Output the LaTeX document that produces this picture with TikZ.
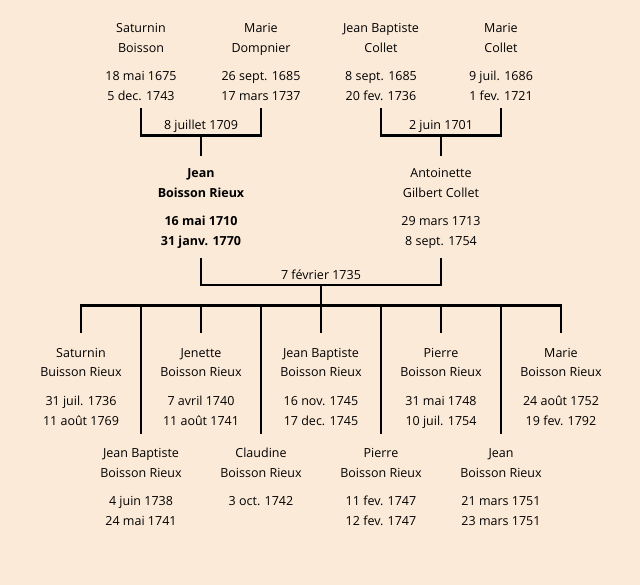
\documentclass[tikz,border=0pt]{standalone}
\usepackage{fontspec}
\setmainfont{Open Sans}
\definecolor{bgpeach}{RGB}{252,234,216}
\newcommand\pers[4]{\vtop{\halign{\hfil##\hfil\cr #1\cr #2\cr\noalign{\vskip8pt}#3\cr #4\cr}}}
\tikzset{
  person/.style={anchor=base, inner sep=0pt, font=\fontsize{12.5}{20}\selectfont},
  wed/.style={anchor=base, inner sep=0pt, font=\fontsize{12.5}{20}\selectfont},
  link/.style={line width=2.5pt, black}
}
\begin{document}
\begin{tikzpicture}[x=1pt,y=-1pt]
\useasboundingbox[fill=bgpeach] (0,0) rectangle (640,585);
% grandparents
\node[person] (sb)  at (141,32.5) {\pers{Saturnin}{Boisson}{18 mai 1675}{5 dec. 1743}};
\node[person] (md)  at (261,32.5) {\pers{Marie}{Dompnier}{26 sept. 1685}{17 mars 1737}};
\node[person] (jbc) at (381,32.5) {\pers{Jean Baptiste}{Collet}{8 sept. 1685}{20 fev. 1736}};
\node[person] (mc)  at (501,32.5) {\pers{Marie}{Collet}{9 juil. 1686}{1 fev. 1721}};
\node[wed] (w1) at (201,129.5) {8 juillet 1709};
\node[wed] (w2) at (441,129.5) {2 juin 1701};
% parents
\node[person] (jbr) at (201,177.5) {\bfseries\pers{Jean}{Boisson Rieux}{16 mai 1710}{31 janv. 1770}};
\node[person] (agc) at (441,177.5) {\pers{Antoinette}{Gilbert Collet}{29 mars 1713}{8 sept. 1754}};
\node[wed] (w3) at (321,280) {7 février 1735};
% children, upper row
\node[person] (c1) at (81,357)  {\pers{Saturnin}{Buisson Rieux}{31 juil. 1736}{11 août 1769}};
\node[person] (c3) at (201,357) {\pers{Jenette}{Boisson Rieux}{7 avril 1740}{11 août 1741}};
\node[person] (c5) at (321,357) {\pers{Jean Baptiste}{Boisson Rieux}{16 nov. 1745}{17 dec. 1745}};
\node[person] (c7) at (441,357) {\pers{Pierre}{Boisson Rieux}{31 mai 1748}{10 juil. 1754}};
\node[person] (c9) at (561,357) {\pers{Marie}{Boisson Rieux}{24 août 1752}{19 fev. 1792}};
% children, lower row
\node[person] (c2) at (141,457.5) {\pers{Jean Baptiste}{Boisson Rieux}{4 juin 1738}{24 mai 1741}};
\node[person] (c4) at (261,457.5) {\pers{Claudine}{Boisson Rieux}{3 oct. 1742}{}};
\node[person] (c6) at (381,457.5) {\pers{Pierre}{Boisson Rieux}{11 fev. 1747}{12 fev. 1747}};
\node[person] (c8) at (501,457.5) {\pers{Jean}{Boisson Rieux}{21 mars 1751}{23 mars 1751}};
% junction points
\coordinate (k1) at (201,135.5);
\coordinate (k2) at (441,135.5);
\coordinate (k3) at (321,285);
\coordinate (bar) at (321,305.7);
% connectors
\draw[link] ([yshift=-75.5pt]sb.base) |- (k1) -| ([yshift=-75.5pt]md.base);
\draw[link] (k1) -- ([yshift=21.5pt]jbr.base);
\draw[link] ([yshift=-75.5pt]jbc.base) |- (k2) -| ([yshift=-75.5pt]mc.base);
\draw[link] (k2) -- ([yshift=21.5pt]agc.base);
\draw[link] ([yshift=-81pt]jbr.base) |- (k3) -| ([yshift=-81pt]agc.base);
\draw[link] (k3) -- (bar);
\draw[link] ([yshift=24pt]c1.base) |- (bar) -| ([yshift=24pt]c9.base);
\foreach \c in {c2,c3,c4,c5,c6,c7,c8}
  \draw[link] (bar -| \c.base) -- ([yshift=24pt]\c.base);
\end{tikzpicture}
\end{document}
